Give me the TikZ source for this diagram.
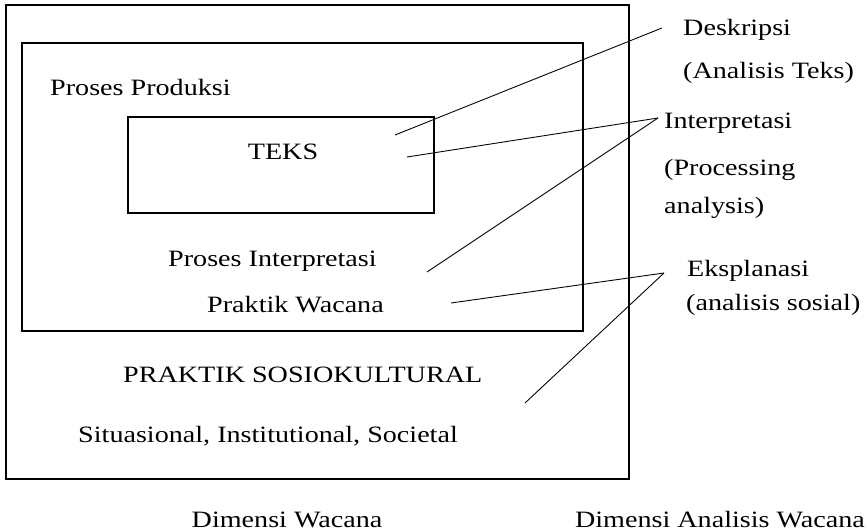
\documentclass[tikz,border=0pt]{standalone}
\usepackage{fontspec}
\setmainfont[FakeStretch=1.2]{Liberation Serif}
\usepackage{tikz}

\begin{document}
\begin{tikzpicture}[x=0.03cm, y=-0.03cm,
		frame/.style={draw=black, line width=1.7pt},
		txt/.style={font=\fontsize{20}{24}\selectfont, inner sep=0pt, anchor=base west},
		mid/.style={font=\fontsize{20}{24}\selectfont, inner sep=0pt, anchor=base},
		link/.style={draw=black, line width=0.75pt}]
		\useasboundingbox (0,0) rectangle (868,532);
		% boxes
		\draw[frame] (6,5) rectangle (629,479);
		\draw[frame] (22,43) rectangle (583,331);
		\draw[frame] (128,117) rectangle (434,213);
		
		\node[txt] (prod) at (50,95) {Proses Produksi};
		\node[mid] (teks) at (283,159) {TEKS};
		\node[txt] (interp) at (168,266) {Proses Interpretasi};
		\node[txt] (praktik) at (207,312) {Praktik Wacana};
		\node[txt] (sosio) at (123,382) {PRAKTIK SOSIOKULTURAL};
		\node[txt] (situ) at (78,442) {Situasional, Institutional, Societal};
		\node[mid] (dimw) at (287,527) {Dimensi Wacana};
		\node[mid] (dima) at (720,527) {Dimensi Analisis Wacana};
		
		\node[txt] (desk) at (683,35) {Deskripsi};
		\node[txt] (desk2) at (683,78) {(Analisis Teks)};
		\node[txt] (inter) at (664,128) {Interpretasi};
		\node[txt] (inter2) at (664,175) {(Processing};
		\node[txt] (inter3) at (664,213) {analysis)};
		\node[txt] (ekspl) at (687,276) {Eksplanasi};
		\node[txt] (ekspl2) at (686,310) {(analisis sosial)};
		
		\coordinate (c1) at (395,135);
		\coordinate (c2) at (407,157);
		\coordinate (c3) at (427,272);
		\coordinate (c4) at (451,303);
		\coordinate (c5) at (525,403);
		\coordinate (t1) at (662,28);
		\coordinate (t2) at (658,118);
		\coordinate (t3) at (664,273);
		
		\path (c1) edge[link] (t1);
		\path (c2) edge[link] (t2);
		\path (c3) edge[link] (t2);
		\path (c4) edge[link] (t3);
		\path (c5) edge[link] (t3);
		
	\end{tikzpicture}
\end{document}
